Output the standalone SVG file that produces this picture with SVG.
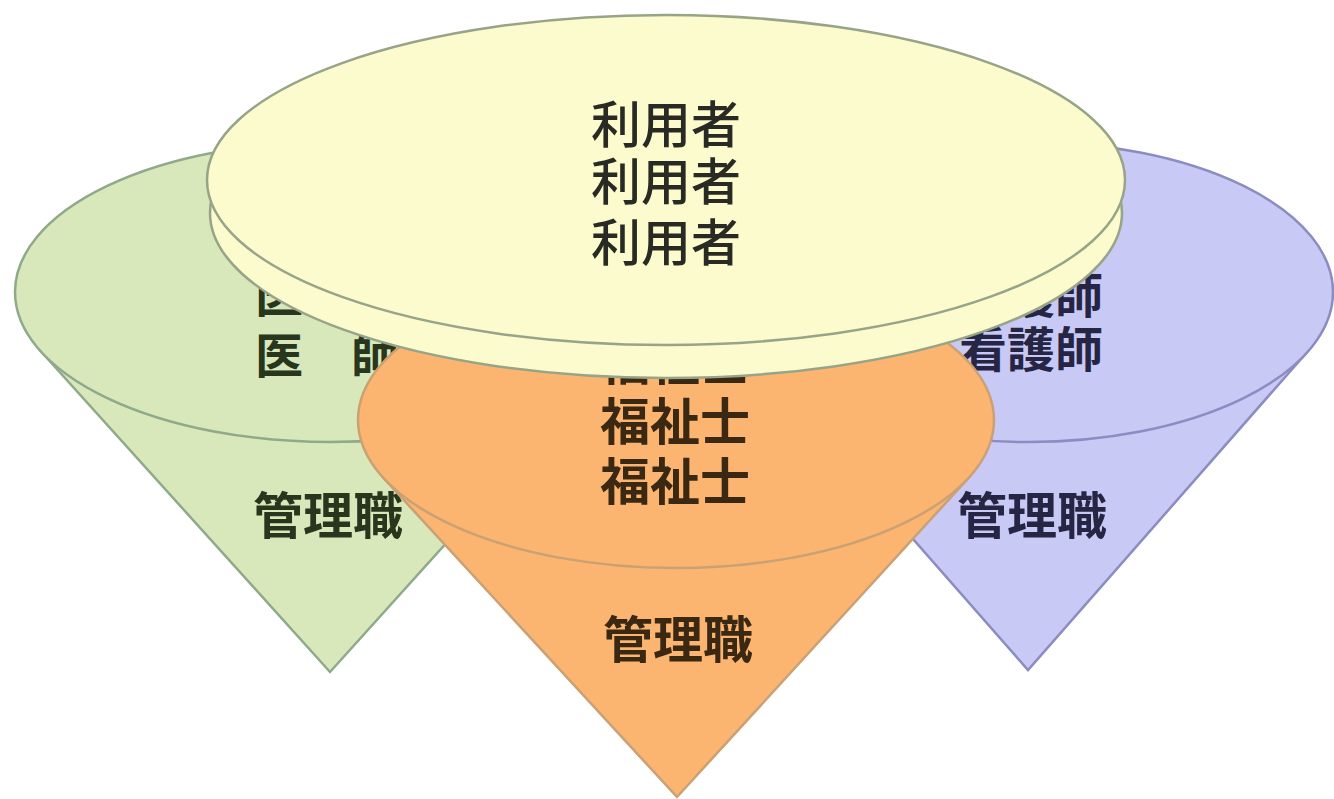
<svg xmlns="http://www.w3.org/2000/svg" width="1334" height="799" viewBox="0 0 1334 799">
  <style>
    .lbl { font-family: "Noto Sans CJK JP", "Noto Sans CJK SC", sans-serif; font-weight: 700; font-size: 50px; text-anchor: middle; }
    .sm { font-size: 48px; }
    .med { font-weight: 500; }
    .green { fill: #d8e8bb; stroke: #8fa98a; stroke-width: 2.5; }
    .purple { fill: #c9c9f6; stroke: #8c8cc2; stroke-width: 2.5; }
    .orange { fill: #fbb570; stroke: #c9a174; stroke-width: 2.5; }
    .yellow { fill: #fbfbcd; stroke: #97a488; stroke-width: 2.5; }
    .tg { fill: #27361c; }
    .tp { fill: #262644; }
    .to { fill: #3a2812; }
    .ty { fill: #2a2a24; }
  </style>
  <rect width="1334" height="799" fill="#ffffff"/>

  <!-- left cone: doctors -->
  <g id="cone-doctor">
    <polygon class="green" points="40.6,351 330,672 619.4,351"/>
    <ellipse class="green" cx="330" cy="292" rx="315" ry="150"/>
    <text class="lbl sm tg" x="327" y="312">医　師</text>
    <text class="lbl sm tg" x="327" y="373">医　師</text>
    <text class="lbl tg" x="328" y="534">管理職</text>
  </g>

  <!-- right cone: nurses -->
  <g id="cone-nurse">
    <polygon class="purple" points="748,351 1028,670 1308,351"/>
    <ellipse class="purple" cx="1028" cy="292" rx="305" ry="150"/>
    <text class="lbl sm tp" x="1031" y="313">看護師</text>
    <text class="lbl sm tp" x="1031" y="367">看護師</text>
    <text class="lbl tp" x="1032" y="534">管理職</text>
  </g>

  <!-- centre cone: care workers -->
  <g id="cone-care">
    <polygon class="orange" points="383.5,478 677,797 968.5,478"/>
    <ellipse class="orange" cx="676" cy="420" rx="318" ry="148"/>
    <text class="lbl to" x="675" y="380">福祉士</text>
    <text class="lbl to" x="675" y="440">福祉士</text>
    <text class="lbl to" x="675" y="500">福祉士</text>
    <text class="lbl to" x="678" y="658">管理職</text>
  </g>

  <!-- top disc: users -->
  <g id="disc-user">
    <ellipse class="yellow" cx="666" cy="213" rx="456" ry="165"/>
    <ellipse class="yellow" cx="666" cy="180" rx="459" ry="165"/>
    <text class="lbl med ty" x="666" y="143">利用者</text>
    <text class="lbl med ty" x="666" y="200">利用者</text>
    <text class="lbl med ty" x="666" y="261">利用者</text>
  </g>

  <g id="connectors"></g>
</svg>
